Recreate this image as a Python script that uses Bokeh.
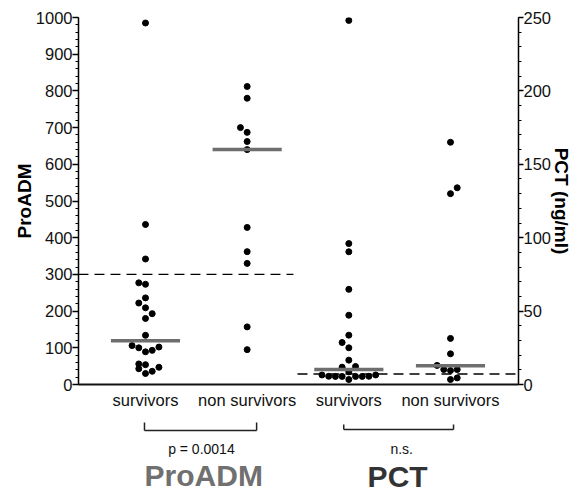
from bokeh.plotting import figure
from bokeh.layouts import column
from bokeh.models import Range1d, LinearAxis, FixedTicker
from bokeh.core.properties import value
from bokeh.embed import file_html
from bokeh.resources import INLINE

# ---------------- data ----------------
group_labels = ["survivors", "non survivors", "survivors", "non survivors"]
group_x = [1, 2, 3, 4]

proadm_surv = [985, 436, 342, 277, 273, 236, 222, 209, 193, 180, 134,
               106, 100, 89, 93, 102, 56, 54, 43, 30, 36, 47]
proadm_surv_slot = [0, 0, 0, -1, 0, 0, -1, 0, 1, 0, 0,
                    -2, -1, 0, 1, 2, -1, 0, -1, 0, 1, 2]

proadm_non = [812, 780, 700, 687, 662, 640, 428, 362, 330, 157, 95]
proadm_non_slot = [0, 0, -1, 0, 0, 0, 0, 0, 0, 0, 0]

pct_surv = [248, 96, 90.4, 64.8, 47.2, 33.6, 28.6, 25, 16.6, 11.8, 12.3, 8.6,
            6.5, 5.6, 5.5, 5.5, 5.5, 5.5, 5.6, 6.5, 3.4]
pct_surv_slot = [0, 0, 0, 0, 0, 0, -1, 0, 0, -1, 1, 0,
                 -4, -3, -2, -1, 1, 2, 3, 4, 0]

pct_non = [165, 134, 130, 31.4, 20.9, 13.0, 10.2, 9.5, 10.2, 3.4, 4.5]
pct_non_slot = [0, 1, 0, 0, 0, -2, -1, 0, 1, 0, 1]

proadm_medians = [119, 640]
pct_medians = [10.2, 12.7]

proadm_cutoff = 300
pct_cutoff = 7.2

proadm_ticks = [0, 100, 200, 300, 400, 500, 600, 700, 800, 900, 1000]
proadm_minor = list(range(0, 1001, 20))
pct_ticks = [0, 50, 100, 150, 200, 250]
pct_minor = list(range(0, 251, 10))

comparison_pairs = [(1, 2), (3, 4)]
comparison_texts = ["p = 0.0014", "n.s."]
marker_names = ["ProADM", "PCT"]
marker_colors = ["#707070", "#333333"]

# ---------------- layout constants ----------------
FONT = "Liberation Sans"
X_LO, X_HI = 0.341, 4.669
SLOT = 0.066
HALF_BAR = 0.34
TICK_FS = "16.5px"

x_range = Range1d(X_LO, X_HI)

p = figure(width=580, height=412,
           x_range=x_range, y_range=Range1d(0, 1000),
           output_backend="svg", toolbar_location=None,
           min_border_left=78, min_border_right=62,
           min_border_top=17, min_border_bottom=28)
p.extra_y_ranges = {"pct": Range1d(0, 250)}

p.xgrid.visible = False
p.ygrid.visible = False
p.outline_line_color = None

# left axis
ya = p.yaxis[0]
ya.ticker = FixedTicker(ticks=proadm_ticks, minor_ticks=proadm_minor)
ya.axis_line_color = "black"
ya.axis_line_width = 1.5
ya.major_tick_line_color = "black"
ya.major_tick_line_width = 1.5
ya.major_tick_out = 6
ya.major_tick_in = 0
ya.minor_tick_line_color = "black"
ya.minor_tick_line_width = 1.2
ya.minor_tick_out = 3
ya.minor_tick_in = 0
ya.major_label_standoff = 0
ya.major_label_text_font = FONT
ya.major_label_text_font_size = TICK_FS
ya.major_label_text_color = "#111111"
ya.axis_label = "ProADM"
ya.axis_label_text_font = FONT
ya.axis_label_text_font_style = "bold"
ya.axis_label_text_font_size = "19px"
ya.axis_label_text_color = "black"
ya.axis_label_standoff = -2

# right axis
ra = LinearAxis(y_range_name="pct",
                ticker=FixedTicker(ticks=pct_ticks, minor_ticks=pct_minor))
ra.axis_line_color = "black"
ra.axis_line_width = 1.5
ra.major_tick_line_color = "black"
ra.major_tick_line_width = 1.5
ra.major_tick_out = 5
ra.major_tick_in = 0
ra.minor_tick_line_color = "black"
ra.minor_tick_line_width = 1.2
ra.minor_tick_out = 3
ra.minor_tick_in = 0
ra.major_label_standoff = 0
ra.major_label_text_font = FONT
ra.major_label_text_font_size = TICK_FS
ra.major_label_text_color = "#111111"
ra.axis_label = "PCT (ng/ml)"
ra.axis_label_text_font = FONT
ra.axis_label_text_font_style = "bold"
ra.axis_label_text_font_size = "19px"
ra.axis_label_text_color = "black"
ra.axis_label_standoff = -3
p.add_layout(ra, "right")

# bottom axis
xa = p.xaxis[0]
xa.ticker = FixedTicker(ticks=group_x)
xa.major_label_overrides = {gx: lab for gx, lab in zip(group_x, group_labels)}
xa.axis_line_color = "#111111"
xa.axis_line_width = 2
xa.major_tick_line_color = None
xa.minor_tick_line_color = None
xa.major_tick_out = 0
xa.major_tick_in = 0
xa.major_label_standoff = 6
xa.major_label_text_font = FONT
xa.major_label_text_font_size = TICK_FS
xa.major_label_text_color = "#111111"

# cutoff dashed lines
p.line([X_LO, group_x[1] + 0.455], [proadm_cutoff, proadm_cutoff],
       line_color="black", line_width=1.4, line_dash="10 6")
p.line([group_x[2] - 0.505, X_HI], [pct_cutoff, pct_cutoff],
       line_color="black", line_width=1.4, line_dash="10 6", y_range_name="pct")

# dots
def xs(center, slots):
    return [center + s * SLOT for s in slots]

p.scatter(xs(group_x[0], proadm_surv_slot), proadm_surv, marker="circle", size=6,
          color="black")
p.scatter(xs(group_x[1], proadm_non_slot), proadm_non, marker="circle", size=6,
          color="black")
p.scatter(xs(group_x[2], pct_surv_slot), pct_surv, marker="circle", size=6,
          color="black", y_range_name="pct")
p.scatter(xs(group_x[3], pct_non_slot), pct_non, marker="circle", size=6,
          color="black", y_range_name="pct")

# median bars
p.segment(x0=[group_x[0] - HALF_BAR, group_x[1] - HALF_BAR], y0=proadm_medians,
          x1=[group_x[0] + HALF_BAR, group_x[1] + HALF_BAR], y1=proadm_medians,
          line_color="#6e6e6e", line_width=3.5)
p.segment(x0=[group_x[2] - HALF_BAR, group_x[3] - HALF_BAR], y0=pct_medians,
          x1=[group_x[2] + HALF_BAR, group_x[3] + HALF_BAR], y1=pct_medians,
          line_color="#6e6e6e", line_width=3.5, y_range_name="pct")

# ---------------- lower panel: comparisons & marker names ----------------
q = figure(width=580, height=81, x_range=x_range, y_range=Range1d(0, 81),
           output_backend="svg", toolbar_location=None,
           min_border_left=78, min_border_right=62,
           min_border_top=0, min_border_bottom=0)
q.axis.visible = False
q.xgrid.visible = False
q.ygrid.visible = False
q.outline_line_color = None

# brackets: (bracket y, tick top) per pair, in panel pixels from bottom
bracket_y = [63, 64]
bracket_top = [71, 69]
bx0, by0, bx1, by1 = [], [], [], []
for (a, b), yb, yt, dx0, dx1 in zip(comparison_pairs, bracket_y, bracket_top,
                                     [-0.01, -0.05], [0.093, 0.03]):
    xa_, xb_ = a + dx0, b + dx1
    bx0 += [xa_, xa_, xb_]
    by0 += [yt, yb, yb]
    bx1 += [xa_, xb_, xb_]
    by1 += [yb, yb, yt]
q.segment(x0=bx0, y0=by0, x1=bx1, y1=by1, line_color="#222222", line_width=1.5)

q.text(x=[1.55, 3.52], y=[45, 45], text=comparison_texts,
       text_font=value(FONT), text_font_size="14px", text_align="center",
       text_baseline="middle", text_color="#111111")

q.text(x=[1.573, 3.48], y=[18, 17], text=marker_names,
       text_font=value(FONT), text_font_style="bold", text_font_size="30px",
       text_align="center", text_baseline="middle", text_color=marker_colors)

layout = column(p, q, spacing=0)
open("out.html", "w").write(file_html(layout, INLINE))
